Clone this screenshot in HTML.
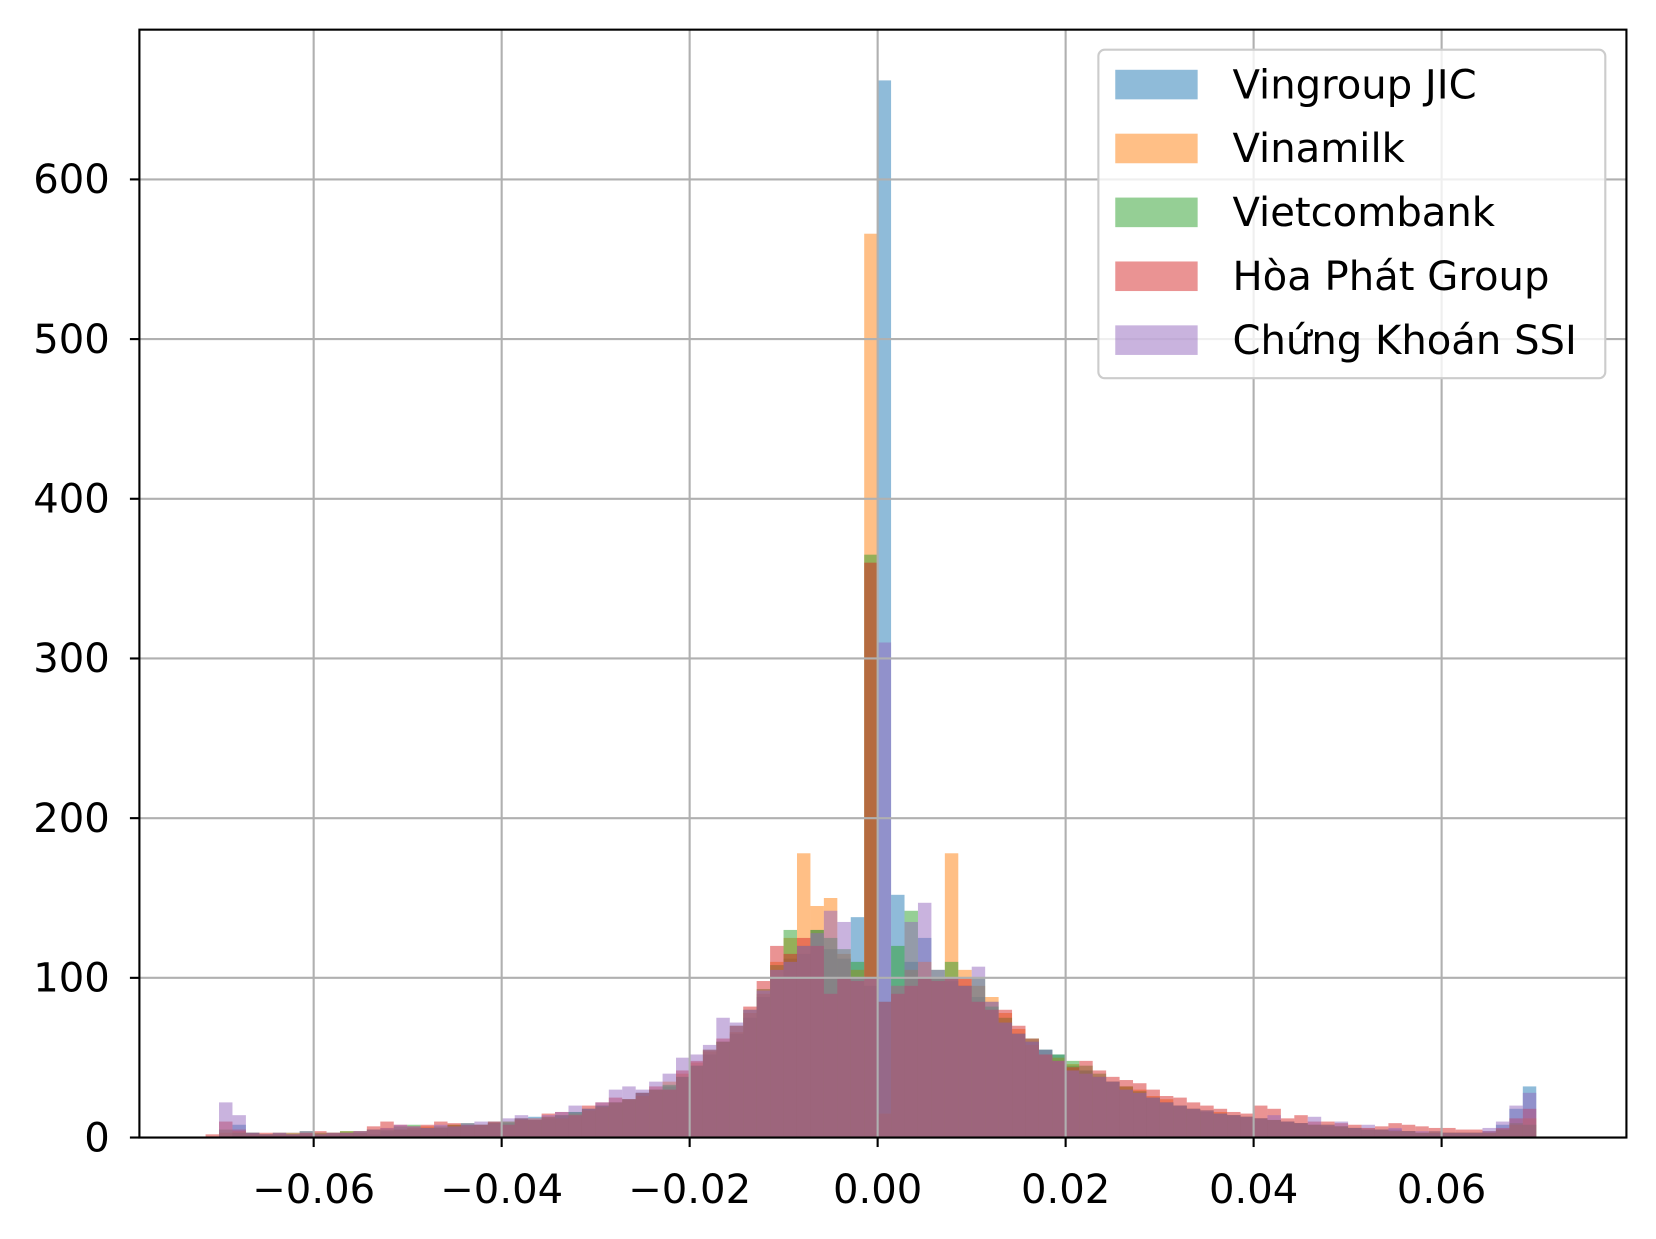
<!DOCTYPE html>
<html><head><meta charset="utf-8">
<style>
body{margin:0;background:#fff;}
svg{display:block;font-family:"DejaVu Sans","Liberation Sans",sans-serif;}
</style></head>
<body>
<svg id="chart" width="1656" height="1239" viewBox="0 0 1568 1173"></svg>
<script>
const seriesNames=["Vingroup JIC","Vinamilk","Vietcombank","Hòa Phát Group","Chứng Khoán SSI"];
const seriesColors=["#1f77b4","#ff7f0e","#2ca02c","#d62728","#9467bd"];
const binStart=-0.0715;
const binWidth=0.00143;
const xTicks=[-0.06,-0.04,-0.02,0.00,0.02,0.04,0.06];
const xTickLabels=["\u22120.06","\u22120.04","\u22120.02","0.00","0.02","0.04","0.06"];
const yTicks=[0,100,200,300,400,500,600];
const vingroup=[0,0,8,3,2,2,3,2,2,2,3,3,2,4,5,5,6,6,7,8,8,10,9,12,13,12,14,16,18,20,22,24,28,30,32,38,45,52,60,65,75,88,100,112,115,130,118,112,138,95,662,152,110,125,100,98,95,88,85,72,65,60,55,52,45,42,38,35,30,28,25,22,20,18,16,15,14,13,12,11,10,9,8,7,7,6,5,5,5,4,3,4,3,3,3,4,8,18,32,0];
const vinamilk=[0,3,4,2,2,2,3,3,2,3,4,3,5,6,5,6,7,6,8,7,8,9,10,11,12,13,12,15,17,19,22,24,26,30,35,40,47,54,60,66,78,90,110,125,178,145,150,115,105,566,15,95,105,110,100,178,105,95,88,78,68,58,52,50,46,40,38,35,32,30,26,24,20,18,17,16,14,13,12,11,10,9,8,8,7,6,6,5,4,4,3,3,3,3,3,3,5,8,12,0];
const vietcombank=[0,5,3,3,2,3,2,4,3,3,4,4,5,5,7,8,6,7,8,9,8,9,10,12,11,13,14,16,18,20,22,24,28,30,33,38,45,55,60,70,80,93,108,130,120,130,125,118,110,365,85,120,142,100,105,110,95,100,82,75,65,62,55,52,48,45,40,35,32,29,25,22,20,18,17,15,14,13,12,11,10,9,8,8,7,6,5,5,4,4,3,3,3,3,3,3,5,9,8,0];
const hoaphat=[2,10,5,3,3,3,2,3,4,3,3,4,7,10,8,7,8,10,9,8,8,10,8,12,11,15,16,14,20,22,25,24,28,32,30,42,48,55,62,70,82,98,120,115,125,120,90,100,98,360,85,90,95,100,98,100,100,85,80,80,70,62,52,48,44,48,42,38,36,34,30,26,25,22,20,18,16,15,20,18,12,14,10,10,9,8,6,7,9,8,7,6,6,5,5,4,6,12,18,0];
const ssi=[0,22,14,3,2,3,2,4,2,3,3,4,5,6,8,7,6,8,7,9,10,9,12,14,12,14,16,20,18,22,30,32,30,35,40,50,52,58,75,72,80,92,105,110,120,128,142,135,100,100,310,95,135,147,105,100,95,107,85,72,65,60,55,48,42,40,38,35,30,28,25,22,20,18,17,15,14,13,12,14,10,9,13,8,10,6,8,5,6,4,4,3,3,3,3,6,10,20,28,0];
const allSeries=[vingroup,vinamilk,vietcombank,hoaphat,ssi];

const L=132,R=1540,T=28,B=1077;
function xs(v){return 831+v*8900;}
function ys(v){return 1077-v*1.512;}
const NS="http://www.w3.org/2000/svg";
const svg=document.getElementById('chart');
function mk(tag,attrs,parent){const e=document.createElementNS(NS,tag);for(const k in attrs)e.setAttribute(k,attrs[k]);(parent||svg).appendChild(e);return e;}

const barsG=mk('g',{});


allSeries.forEach((arr,s)=>{
  const g=mk('g',{fill:seriesColors[s],'fill-opacity':0.5},barsG);
  
  
  arr.forEach((v,i)=>{
    if(v<=0)return;
    const x0=xs(binStart+i*binWidth),x1=xs(binStart+(i+1)*binWidth);
    const r=mk('rect',{x:x0,y:ys(v),width:x1-x0,height:ys(0)-ys(v)},g);
    
    
  });
});
const gridG=mk('g',{stroke:'#b0b0b0','stroke-width':2});


xTicks.forEach(t=>mk('line',{x1:xs(t),x2:xs(t),y1:T,y2:B},gridG));
yTicks.forEach(t=>mk('line',{x1:L,x2:R,y1:ys(t),y2:ys(t)},gridG));
const fr=mk('rect',{x:L,y:T,width:R-L,height:B-T,fill:'none',stroke:'#000','stroke-width':2});


xTicks.forEach((t,i)=>{
  mk('line',{x1:xs(t),x2:xs(t),y1:B,y2:B+9,stroke:'#000','stroke-width':2});
  const tx=mk('text',{x:xs(t),y:1139,'text-anchor':'middle','font-size':38,fill:'#000'});
  tx.textContent=xTickLabels[i];
  
  
});
yTicks.forEach(t=>{
  mk('line',{x1:L-9,x2:L,y1:ys(t),y2:ys(t),stroke:'#000','stroke-width':2});
  const tx=mk('text',{x:L-28,y:ys(t)+13,'text-anchor':'end','font-size':38,fill:'#000'});
  tx.textContent=String(t);
  
  
});
const lg=mk('g',{});


mk('rect',{x:1040,y:47,width:480,height:311,rx:6,fill:'#fff','fill-opacity':0.8,stroke:'#ccc','stroke-width':2},lg);
seriesNames.forEach((n,i)=>{
  const cy=80+i*60.5;
  const p=mk('rect',{x:1056,y:cy-14,width:78,height:28,fill:seriesColors[i],'fill-opacity':0.5},lg);
  
  
  const tx=mk('text',{x:1167,y:cy+13,'font-size':38,fill:'#000'},lg);
  tx.textContent=n;
  
  
});
</script>
</body></html>
